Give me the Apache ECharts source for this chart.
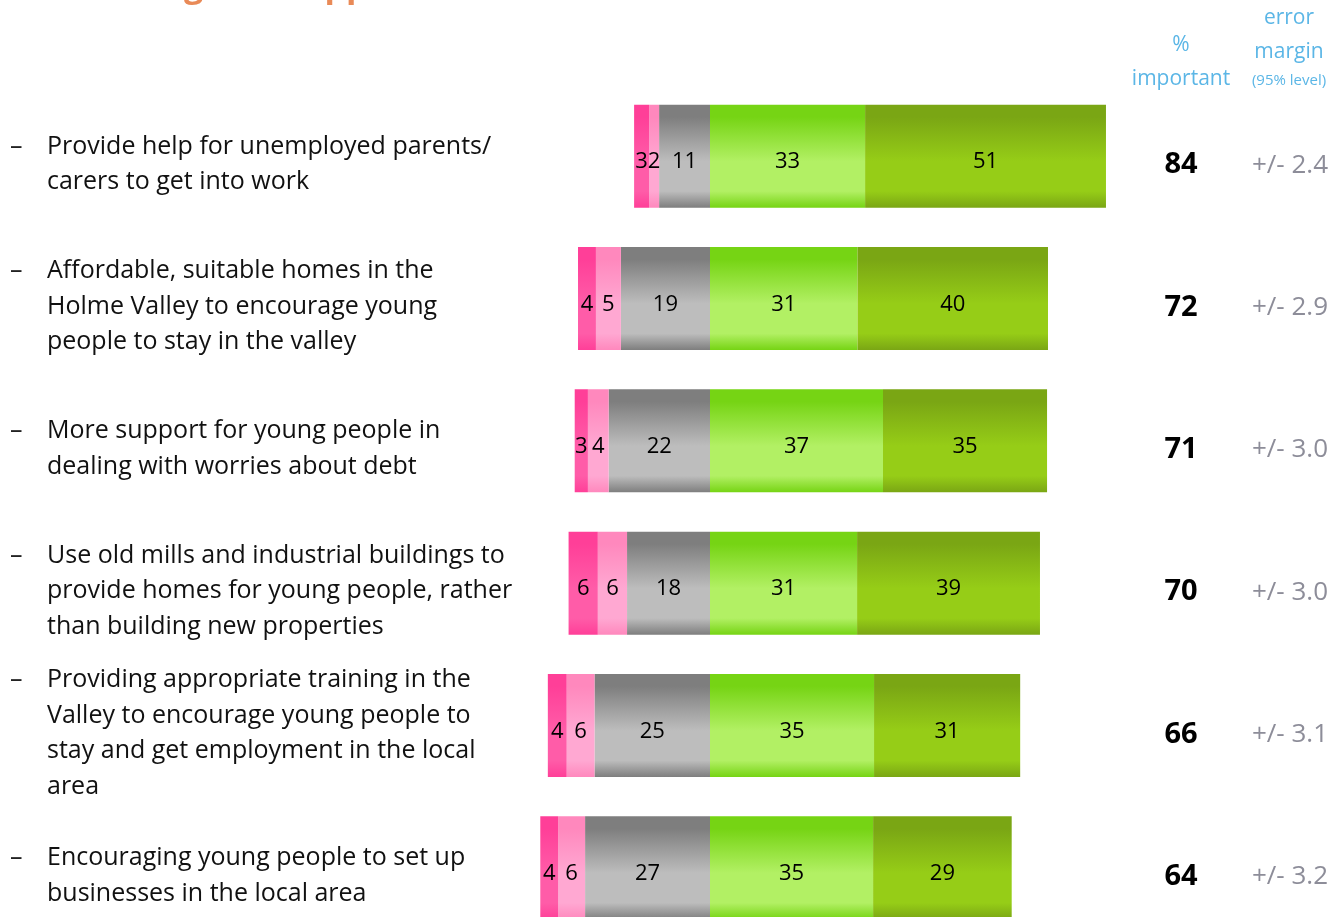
<!DOCTYPE html>
<html>
<head>
<meta charset="utf-8">
<script src="https://cdn.jsdelivr.net/npm/echarts@6/dist/echarts.min.js"></script>
<style>
html, body { margin: 0; padding: 0; background: #fff; overflow: hidden; }
#chart { width: 1344px; height: 940px; }
</style>
</head>
<body>
<div id="chart"></div>
<script>
const categories = [
  'Provide help for unemployed parents/\ncarers to get into work',
  'Affordable, suitable homes in the\nHolme Valley to encourage young\npeople to stay in the valley',
  'More support for young people in\ndealing with worries about debt',
  'Use old mills and industrial buildings to\nprovide homes for young people, rather\nthan building new properties',
  'Providing appropriate training in the\nValley to encourage young people to\nstay and get employment in the local\narea',
  'Encouraging young people to set up\nbusinesses in the local area'
];
// shares (labels are the rounded values)
const veryUnimportant = [3.2, 3.8, 2.8, 6.2, 4.0, 3.8];
const fairlyUnimportant = [2.1, 5.3, 4.4, 6.2, 5.9, 5.7];
const neither = [10.8, 18.9, 21.5, 17.6, 24.5, 26.5];
const fairlyImportant = [32.9, 31.3, 36.7, 31.2, 34.8, 34.6];
const veryImportant = [51.1, 40.4, 34.8, 38.8, 31.0, 29.4];
const pctImportant = [84, 72, 71, 70, 66, 64];
const errorMargin = ['2.4', '2.9', '3.0', '3.0', '3.1', '3.2'];

const FONT = '"Open Sans", "Noto Sans", sans-serif';
const xMin = -40, xMax = 100;
const pxPerUnit = 4.714;
const zeroX = 710;
const gridLeft = zeroX + xMin * pxPerUnit;
const gridWidth = (xMax - xMin) * pxPerUnit;
const gridRightEdge = gridLeft + gridWidth;

function grad(c0, c1) {
  return new echarts.graphic.LinearGradient(0, 0, 0, 1, [
    { offset: 0, color: c0 },
    { offset: 0.12, color: c0 },
    { offset: 0.55, color: c1 },
    { offset: 0.84, color: c1 },
    { offset: 1, color: c0 }
  ]);
}

function seg(name, values, sign, c0, c1) {
  return {
    name: name,
    type: 'bar',
    stack: 'total',
    barWidth: 103,
    data: values.map(v => sign * v),
    itemStyle: { color: grad(c0, c1) },
    label: {
      show: true,
      position: 'inside',
      color: '#000',
      fontSize: 22,
      fontFamily: FONT,
      offset: [0, 6],
      formatter: p => Math.round(Math.abs(p.value))
    },
    emphasis: { disabled: true }
  };
}

function leftLabel(value) {
  return value.split('\n').map((line, i) =>
    (i === 0 ? '{d|\u2013}' : '{s| }') + '{t|' + line + '}'
  ).join('\n');
}

const chart = echarts.init(document.getElementById('chart'), null, { renderer: 'canvas' });

const option = {
  animation: false,
  title: {
    text: 'Housing and support',
    left: 60,
    top: -35,
    textStyle: { color: '#e98a57', fontSize: 34, fontWeight: 'bold', fontFamily: FONT }
  },
  grid: { left: gridLeft, width: gridWidth, top: 85, height: 854, containLabel: false },
  xAxis: { type: 'value', min: xMin, max: xMax, show: false },
  yAxis: [
    {
      type: 'category', data: categories, inverse: true, position: 'left',
      axisLine: { show: false }, axisTick: { show: false }, splitLine: { show: false },
      axisLabel: {
        align: 'left',
        margin: gridLeft - 10,
        padding: [16, 0, 0, 0],
        formatter: leftLabel,
        rich: {
          d: { width: 37, fontSize: 25, lineHeight: 35.5, color: '#222', fontFamily: FONT },
          s: { width: 37, fontSize: 25, lineHeight: 35.5, fontFamily: FONT },
          t: { fontSize: 25, lineHeight: 35.5, color: '#111', fontFamily: FONT }
        }
      }
    },
    {
      type: 'category', data: categories, inverse: true, position: 'right',
      axisLine: { show: false }, axisTick: { show: false },
      axisLabel: {
        align: 'center',
        margin: 1181 - gridRightEdge,
        formatter: (v, i) => '{v|' + pctImportant[i] + '}',
        rich: {
          v: { color: '#000', fontSize: 29, fontWeight: 'bold', fontFamily: FONT, padding: [18, 0, 0, 0] }
        }
      }
    },
    {
      type: 'category', data: categories, inverse: true, position: 'right',
      axisLine: { show: false }, axisTick: { show: false },
      axisLabel: {
        align: 'center',
        margin: 1290 - gridRightEdge,
        formatter: (v, i) => '{v|+/- ' + errorMargin[i] + '}',
        rich: {
          v: { color: '#8d8d99', fontSize: 26, fontFamily: FONT, padding: [18, 0, 0, 0] }
        }
      }
    }
  ],
  graphic: [
    { type: 'text', x: 1181, y: 45, style: { text: '%', fill: '#5bb6e6', font: '21px "Open Sans"', align: 'center', verticalAlign: 'middle' } },
    { type: 'text', x: 1181, y: 79, style: { text: 'important', fill: '#5bb6e6', font: '21px "Open Sans"', align: 'center', verticalAlign: 'middle' } },
    { type: 'text', x: 1289, y: 18, style: { text: 'error', fill: '#5bb6e6', font: '21px "Open Sans"', align: 'center', verticalAlign: 'middle' } },
    { type: 'text', x: 1289, y: 52, style: { text: 'margin', fill: '#5bb6e6', font: '21px "Open Sans"', align: 'center', verticalAlign: 'middle' } },
    { type: 'text', x: 1289, y: 81, style: { text: '(95% level)', fill: '#5bb6e6', font: '15px "Open Sans"', align: 'center', verticalAlign: 'middle' } }
  ],
  series: [
    seg('Neither', neither, -1, '#7e7e7e', '#bdbdbd'),
    seg('Fairly unimportant', fairlyUnimportant, -1, '#ff88bd', '#ffa8d2'),
    seg('Very unimportant', veryUnimportant, -1, '#ff3f98', '#ff5ca8'),
    seg('Fairly important', fairlyImportant, 1, '#76d414', '#b2f064'),
    seg('Very important', veryImportant, 1, '#7aa614', '#96cd17')
  ]
};
chart.setOption(option);
</script>
</body>
</html>
